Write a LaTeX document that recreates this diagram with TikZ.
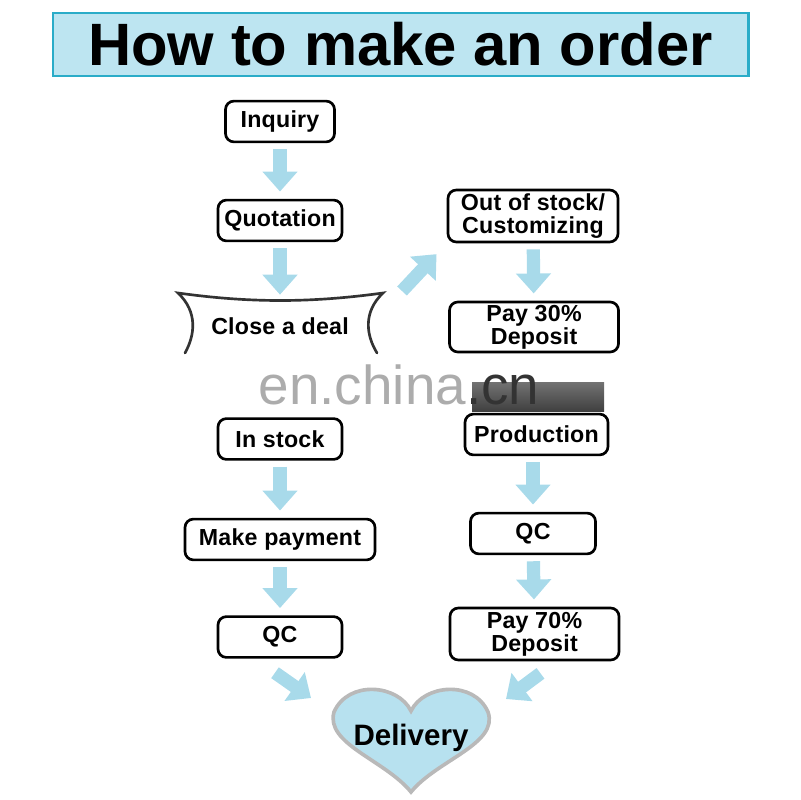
\documentclass[tikz,border=0pt]{standalone}
\usepackage{fontspec}
\setmainfont{Liberation Sans}
\newfontfamily\boxfont{Liberation Sans}[LetterSpace=1]
\usetikzlibrary{positioning, arrows.meta, calc}
\definecolor{title_fill}{HTML}{BDE5F1}
\definecolor{title_line}{HTML}{2AACC8}
\definecolor{flow_blue}{HTML}{A8DAEA}
\definecolor{heart_fill}{HTML}{B7E1EF}

\begin{document}
\begin{tikzpicture}[x=0.025cm, y=-0.025cm, font=\boxfont\bfseries\fontsize{16.5}{16.5}\selectfont,
    box/.style={draw, line width=1.9pt, rounded corners=6pt, fill=white, align=center, inner sep=0pt, minimum height=1.02cm},
    flow/.style={flow_blue, line width=0.33cm, -{Triangle[width=0.85cm, length=0.5cm]}, shorten <=0.15cm, shorten >=0.18cm}]

      \useasboundingbox (0,0) rectangle (800,800);

      % 1. Titulo
      \node[draw=title_line, fill=title_fill, line width=2pt, minimum width=17.375cm, minimum height=1.575cm,
            font=\rmfamily\bfseries\fontsize{42.5}{44}\selectfont] (title) at (400.5,44.5) {How to make an order};

      % 2. Columna izquierda
      \node[box, minimum width=2.725cm] (inq) at (280,121.5) {Inquiry};
      \node[box, minimum width=3.1cm] (quo) at (280,220.5) {Quotation};
      \node[align=center, minimum width=5.125cm, minimum height=1.35cm] (deal) at (280,326) {Close a deal};
      \node[box, minimum width=3.1cm] (instock) at (280,439) {In stock};
      \node[box, minimum width=4.75cm] (pay) at (280,539.5) {Make payment};
      \node[box, minimum width=3.1cm] (qcl) at (280,637) {QC};

      % banner de "Close a deal"
      \draw[line width=1.9pt, black!80, line cap=round]
        (185,353) .. controls (195,335) and (198,312) .. (178,293)
        .. controls (250,303) and (310,303) .. (383,293)
        .. controls (363,312) and (366,335) .. (377,353);

      % 3. Columna derecha
      \node[box, minimum width=4.25cm, minimum height=1.3cm] (outstock) at (533,216) {Out of stock/\\Customizing};
      \node[box, minimum width=4.225cm, minimum height=1.25cm] (pay30) at (534,327) {Pay 30\%\\Deposit};
      \node[box, minimum width=3.575cm] (prod) at (536.5,434.5) {Production};
      \node[box, minimum width=3.125cm] (qcr) at (533,533.5) {QC};
      \node[box, minimum width=4.225cm, minimum height=1.3cm] (pay70) at (534.5,634) {Pay 70\%\\Deposit};

      % 4. Corazon (Delivery)
      \draw[fill=heart_fill, draw=gray!55, line width=2.6pt]
        (411,711) .. controls (398,684) and (348,680) .. (334,712)
        .. controls (325,744) and (385,760) .. (411,792)
        .. controls (437,760) and (499,744) .. (488,712)
        .. controls (474,680) and (424,684) .. (411,711) -- cycle;
      \node[font=\rmfamily\bfseries\fontsize{21}{21}\selectfont] (delivery) at (411,738) {Delivery};

      % 5. Flechas
      \draw[flow] (inq) -- (quo);
      \draw[flow, shorten >=0.1cm] (quo) -- (deal);
      \draw[flow] (instock) -- (pay);
      \draw[flow] (pay) -- (qcl);
      \draw[flow] (outstock) -- (pay30);
      \draw[flow] (prod.south -| qcr) -- (qcr);
      \draw[flow] (qcr) -- (pay70);

      \coordinate (deal_out) at (402,291);
      \draw[flow, shorten <=0pt, shorten >=0.37cm] (deal_out) -- (outstock.south west);

      \coordinate (heart_l) at (311,698);
      \coordinate (heart_r) at (506,699);
      \draw[flow, shorten <=0pt, shorten >=0pt] ($(qcl.south)+(-5,14)$) -- (heart_l);
      \draw[flow, shorten <=0pt, shorten >=0pt] ($(pay70.south)+(6,12)$) -- (heart_r);

      % 6. Marca de agua
      \shade[top color=black!55, bottom color=black!75] (472,382) rectangle (604,411);
      \node[font=\rmfamily\mdseries\fontsize{39}{39}\selectfont, text=gray!65] (mark) at (399,385)
        {en.china\textcolor{black!80}{.cn}};

\end{tikzpicture}
\end{document}
